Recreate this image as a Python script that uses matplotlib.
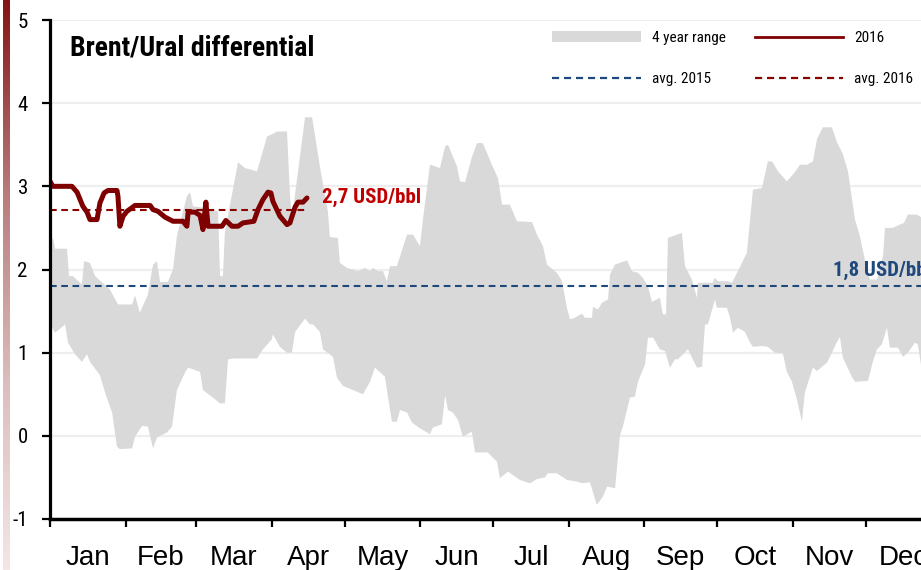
import numpy as np
import matplotlib
matplotlib.use("Agg")
import matplotlib.pyplot as plt
from matplotlib.patches import Patch
from matplotlib.lines import Line2D
from matplotlib.colors import LinearSegmentedColormap
import logging

logging.getLogger("matplotlib.font_manager").setLevel(logging.ERROR)

# ---- data -------------------------------------------------------------
# 4-year range, upper envelope (day of year, USD/bbl)
range_upper_days = [0.0, 1.2, 2.1, 7.0, 7.8, 9.4, 13.1, 14.0, 16.4, 18.5, 24.6, 27.9, 33.7,
                    34.9, 36.9, 40.2, 42.3, 43.9, 45.2, 48.4, 50.5, 52.1, 56.2, 57.5, 58.7,
                    63.6, 69.0, 69.8, 71.0, 71.8, 77.2, 80.0, 85.0, 89.1, 91.5, 93.2, 97.3,
                    98.5, 99.3, 100.6, 104.7, 107.6, 110.8, 114.1, 114.9, 118.2, 119.0, 121.9,
                    126.4, 129.3, 131.4, 132.6, 134.6, 136.7, 138.3, 139.6, 142.4, 146.6,
                    149.0, 151.9, 153.1, 156.0, 160.1, 162.2, 163.4, 167.1, 168.3, 170.4,
                    173.2, 175.3, 177.7, 181.4, 183.9, 185.6, 188.8, 191.7, 197.9, 199.9,
                    202.4, 204.0, 208.1, 210.2, 212.2, 213.5, 215.5, 218.4, 219.6, 222.5,
                    222.9, 225.0, 226.6, 229.1, 229.9, 232.0, 236.9, 238.9, 241.4, 243.4,
                    245.5, 247.1, 250.4, 251.6, 252.9, 253.7, 259.4, 260.7, 263.5, 265.6,
                    266.0, 272.0, 273.0, 274.2, 277.9, 280.0, 282.4, 286.1, 288.6, 292.3,
                    294.7, 296.4, 298.9, 302.5, 305.8, 307.9, 310.8, 313.2, 314.9, 317.3,
                    321.0, 323.1, 325.5, 327.6, 330.5, 332.5, 335.4, 336.6, 339.5, 342.0,
                    342.8, 346.1, 348.9, 350.6, 352.2, 355.9, 358.0]
range_upper = [2.37, 2.38, 2.25, 2.25, 1.92, 1.92, 1.82, 2.10, 2.08, 1.92, 1.76, 1.58, 1.58,
               1.69, 1.48, 1.70, 2.06, 2.10, 1.85, 1.85, 2.00, 2.40, 2.88, 2.93, 2.76,
               2.74, 2.70, 1.92, 1.92, 2.45, 3.29, 3.22, 3.18, 3.60, 3.63, 3.66, 3.66,
               2.90, 2.62, 2.90, 3.83, 3.83, 3.24, 2.69, 2.39, 2.38, 2.08, 2.02,
               1.98, 2.02, 1.98, 2.02, 1.98, 1.98, 1.86, 2.04, 2.04, 2.42,
               2.42, 2.28, 2.60, 3.26, 3.22, 3.48, 3.50, 3.24, 3.06, 3.05,
               3.35, 3.52, 3.52, 3.26, 3.10, 2.78, 2.78, 2.58, 2.57, 2.42,
               2.28, 2.06, 1.96, 1.86, 1.54, 1.40, 1.42, 1.47, 1.42, 1.42,
               1.55, 1.52, 1.60, 1.64, 1.94, 2.06, 2.11, 1.98, 1.96, 1.90,
               1.80, 1.61, 1.66, 1.46, 1.46, 2.38, 2.44, 2.04, 1.88, 1.66,
               1.84, 1.84, 1.90, 1.86, 1.86, 1.84, 1.98, 2.20, 2.96, 2.98,
               3.30, 3.30, 3.18, 3.06, 3.17, 3.26, 3.26, 3.30, 3.57, 3.71,
               3.71, 3.53, 3.39, 3.18, 2.60, 2.40, 2.00, 1.88, 1.88, 2.16,
               2.50, 2.50, 2.54, 2.56, 2.66, 2.66, 2.62]

# 4-year range, lower envelope (day of year, USD/bbl)
range_lower_days = [0.0, 0.8, 2.1, 6.2, 7.4, 10.3, 13.1, 15.2, 16.4, 20.5, 22.6, 25.5, 27.5,
                    28.7, 33.7, 34.9, 37.8, 40.2, 42.3, 43.9, 48.0, 50.1, 52.1, 55.4, 56.7,
                    61.6, 62.8, 66.9, 69.8, 71.8, 73.1, 75.1, 85.0, 87.4, 91.1, 91.5, 94.4,
                    97.3, 99.3, 100.6, 104.7, 106.7, 108.0, 110.8, 112.1, 116.2, 117.8,
                    120.3, 124.4, 128.5, 131.4, 133.4, 137.5, 138.8, 140.4, 142.4, 143.7,
                    146.6, 148.6, 151.9, 156.0, 157.2, 160.9, 162.2, 163.4, 165.4, 167.5,
                    169.5, 173.2, 174.5, 179.8, 181.4, 183.5, 184.7, 188.0, 192.9, 197.0,
                    199.9, 203.2, 204.4, 208.1, 212.2, 216.3, 218.4, 221.7, 224.5, 227.0,
                    228.7, 232.0, 234.0, 235.2, 238.1, 240.1, 241.4, 244.3, 245.5, 247.6,
                    250.4, 252.5, 253.3, 254.5, 256.6, 257.8, 261.9, 265.6, 267.7, 268.9,
                    270.1, 273.0, 273.8, 277.9, 279.2, 280.4, 282.4, 285.3, 287.4, 288.6,
                    292.3, 294.7, 297.6, 300.9, 302.5, 304.6, 306.7, 308.7, 309.9, 311.2,
                    313.2, 314.9, 316.9, 319.0, 321.0, 323.1, 324.3, 325.5, 329.2, 330.5,
                    335.8, 337.8, 339.5, 341.5, 343.6, 344.8, 348.1, 350.2, 352.2, 355.1,
                    356.3, 358.0]
range_lower = [1.30, 1.30, 1.24, 1.34, 1.12, 0.98, 0.89, 0.98, 0.89, 0.73, 0.52, 0.28, -0.13,
               -0.16, -0.15, -0.01, 0.12, 0.11, -0.15, -0.02, 0.04, 0.11, 0.55, 0.76, 0.82,
               0.77, 0.55, 0.46, 0.39, 0.39, 0.92, 0.93, 0.93, 1.04, 1.16, 1.22, 1.07,
               1.00, 1.00, 1.25, 1.41, 1.34, 1.34, 1.25, 1.04, 0.95, 0.70,
               0.60, 0.55, 0.50, 0.65, 0.82, 0.71, 0.46, 0.17, 0.17, 0.31,
               0.28, 0.16, 0.09, 0.02, 0.10, 0.14, 0.49, 0.31, 0.28, 0.19,
               -0.01, 0.05, -0.20, -0.20, -0.25, -0.31, -0.51, -0.43, -0.53, -0.57,
               -0.52, -0.50, -0.45, -0.45, -0.53, -0.55, -0.57, -0.56, -0.83, -0.73,
               -0.61, -0.63, 0.01, 0.11, 0.46, 0.47, 0.65, 0.86, 1.18, 1.18,
               1.04, 1.02, 0.94, 0.82, 0.92, 0.92, 1.04, 0.82, 0.83, 1.34,
               1.34, 1.64, 1.54, 1.54, 1.42, 1.24, 1.30, 1.25, 1.12, 1.07,
               1.08, 1.07, 1.00, 0.99, 0.77, 0.65, 0.43, 0.17, 0.52, 0.64,
               0.82, 0.78, 0.83, 0.88, 1.00, 1.13, 1.19, 0.94, 0.71, 0.65,
               0.66, 0.89, 1.04, 1.10, 1.30, 1.06, 1.06, 0.95, 1.00, 1.12,
               1.10, 0.77]

# 2016 daily differential (day of year, USD/bbl)
days_2016 = [0.0, 1.2, 9.0, 11.1, 13.5, 15.2, 16.4, 19.3, 20.5, 22.2, 23.8, 27.5, 27.9,
             28.7, 30.0, 31.6, 34.9, 41.1, 42.3, 44.3, 47.2, 50.5, 54.6, 56.2, 56.7,
             59.5, 61.6, 62.8, 64.0, 64.9, 70.6, 72.2, 74.7, 77.2, 79.2, 83.7, 85.4,
             87.4, 89.5, 90.7, 91.5, 94.4, 97.3, 98.5, 100.6, 101.8, 103.9, 105.5]
values_2016 = [3.06, 3.00, 3.00, 2.93, 2.76, 2.69, 2.60, 2.60, 2.80, 2.92, 2.95, 2.95, 2.88,
               2.52, 2.64, 2.70, 2.77, 2.77, 2.72, 2.70, 2.63, 2.58, 2.58, 2.52, 2.69,
               2.69, 2.65, 2.48, 2.81, 2.52, 2.52, 2.59, 2.52, 2.52, 2.56, 2.58, 2.72,
               2.84, 2.93, 2.92, 2.82, 2.64, 2.54, 2.56, 2.75, 2.81, 2.81, 2.86]

avg_2015 = 1.8
avg_2016 = 2.72

month_labels = ["Jan", "Feb", "Mar", "Apr", "May", "Jun", "Jul", "Aug", "Sep", "Oct", "Nov", "Dec"]
month_lengths = [31, 29, 31, 30, 31, 30, 31, 31, 30, 31, 30, 31]

# ---- styling ----------------------------------------------------------
NARROW = ["Liberation Sans Narrow", "Roboto Condensed", "Fira Sans Condensed", "DejaVu Sans"]
REGULAR = ["Liberation Sans", "DejaVu Sans"]
RANGE_GREY = "#d9d9d9"
DARK_RED = "#7f0000"
AVG_RED = "#8b0000"
LABEL_RED = "#c00000"
BLUE = "#1f497d"

W, H = 921, 570
fig = plt.figure(figsize=(W / 100, H / 100), dpi=100)
fig.patch.set_facecolor("white")

# decorative gradient stripe on the left edge
stripe_ax = fig.add_axes([3 / W, 0, 6 / W, 1])
stripe_cmap = LinearSegmentedColormap.from_list(
    "stripe", ["#861414", "#b77b7b", "#dcbcbc", "#f4e6e6"])
stripe_ax.imshow(np.linspace(0, 1, 256).reshape(-1, 1), aspect="auto",
                 cmap=stripe_cmap, extent=[0, 1, 0, 1])
stripe_ax.set_axis_off()

ax = fig.add_axes([50 / W, 51 / H, 891.5 / W, 499 / H])

month_edges = np.concatenate([[0], np.cumsum(month_lengths)])
month_mids = (month_edges[:-1] + month_edges[1:]) / 2

# 4-year range as a closed polygon: upper envelope then lower envelope reversed
poly_x = np.concatenate([range_upper_days, range_lower_days[::-1]])
poly_y = np.concatenate([range_upper, range_lower[::-1]])
ax.fill(poly_x, poly_y, color=RANGE_GREY, lw=0, zorder=2)

ax.axhline(avg_2015, color=BLUE, lw=1.5, dashes=(3.2, 2.2), zorder=3)
ax.plot([days_2016[0], days_2016[-1]], [avg_2016, avg_2016], color=AVG_RED,
        lw=1.5, dashes=(3.2, 2.2), zorder=3)
ax.plot(days_2016, values_2016, color=DARK_RED, lw=3.6,
        solid_capstyle="round", solid_joinstyle="round", zorder=4)

ax.text(days_2016[-1] + 6, avg_2016 + 0.15, "2,7 USD/bbl", color=LABEL_RED,
        fontsize=15, fontweight="bold", family=NARROW, va="center", ha="left", zorder=5)
ax.text(321.4, avg_2015 + 0.19, "1,8 USD/bbl", color=BLUE,
        fontsize=15, fontweight="bold", family=NARROW, va="center", ha="left", zorder=5)

ax.text(0.0224, 0.944, "Brent/Ural differential", transform=ax.transAxes,
        fontsize=20, fontweight="bold", family=NARROW, va="center", ha="left", zorder=5)

# axes
ax.set_xlim(0, 366)
ax.set_ylim(-1, 5)
ax.set_yticks(range(-1, 6))
ax.set_yticklabels([str(v) for v in range(-1, 6)], family=NARROW, fontsize=15)
ax.tick_params(axis="y", length=6, width=1.6, pad=10, color="black")

ax.set_xticks(month_edges[:-1])
ax.set_xticklabels([])
ax.set_xticks(month_mids, minor=True)
ax.set_xticklabels(month_labels, minor=True, family=REGULAR, fontsize=20)
ax.tick_params(axis="x", which="major", length=6, width=1.6, direction="out")
ax.tick_params(axis="x", which="minor", length=0, pad=19)

for y in range(0, 6):
    ax.axhline(y, color="#eeeeee", lw=1.6, zorder=1)

for side in ("top", "right"):
    ax.spines[side].set_visible(False)
ax.spines["left"].set_linewidth(2.3)
ax.spines["bottom"].set_linewidth(2.5)
ax.spines["left"].set_zorder(6)
ax.spines["bottom"].set_zorder(6)

handles = [
    Patch(facecolor=RANGE_GREY, edgecolor="none", label="4 year range"),
    Line2D([], [], color=BLUE, lw=1.6, dashes=(3.2, 2.2), label="avg. 2015"),
    Line2D([], [], color=DARK_RED, lw=2.0, label="2016"),
    Line2D([], [], color=AVG_RED, lw=1.6, dashes=(3.2, 2.2), label="avg. 2016"),
]
leg = fig.legend(handles=handles, loc="upper left", ncol=2,
                 bbox_to_anchor=(552 / W, 1 - 31 / H), bbox_transform=fig.transFigure,
                 frameon=False, borderpad=0, borderaxespad=0,
                 prop={"family": NARROW, "size": 11},
                 handlelength=5.8, handleheight=0.75, handletextpad=0.72,
                 columnspacing=1.9, labelspacing=1.8)

fig.savefig("out.png", dpi=100, facecolor="white")
